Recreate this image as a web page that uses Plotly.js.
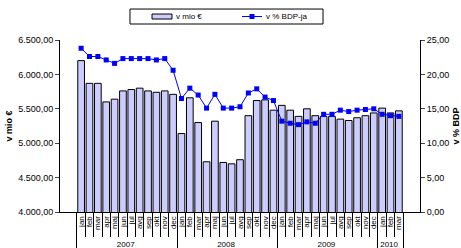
<!DOCTYPE html>
<html>
<head>
<meta charset="utf-8">
<script src="https://cdn.plot.ly/plotly-3.0.1.min.js"></script>
<style>html,body{margin:0;padding:0;background:#fff}#chart{width:461px;height:248px}</style>
</head>
<body>
<div id="chart"></div>
<script>
const years = ['2007','2008','2009','2010'];
const monthsPerYear = [12,12,12,3];
const months = ['jan','feb','mar','apr','maj','jun','jul','avg','sep','okt','nov','dec'];
const valuesMio = [6200,5870,5870,5600,5640,5760,5780,5800,5760,5740,5760,5710,
                   5140,5660,5300,4730,5320,4720,4700,4760,5400,5620,5630,5480,
                   5550,5480,5390,5500,5400,5390,5390,5350,5330,5370,5400,5440,
                   5510,5440,5470];
const valuesPctBDP = [23.8,22.6,22.6,22.1,21.6,22.3,22.3,22.3,22.3,22.1,22.3,20.6,
                      16.5,18.0,17.0,15.1,17.1,15.1,15.1,15.3,17.3,17.9,16.7,16.2,
                      13.2,12.9,12.7,13.1,12.9,14.2,14.2,14.8,14.6,14.8,14.9,15.0,
                      14.2,14.0,13.9];
const seriesNames = ['v mio €', 'v % BDP-ja'];

const xYear = [], xMonth = [];
years.forEach((y,i)=>{ for(let m=0;m<monthsPerYear[i];m++){ xYear.push(y); xMonth.push(months[m]); } });

const font = 'Liberation Sans, Arial, sans-serif';
const barColor = '#CCCCFF', lineColor = '#0000FF';
const traces = [
  {type:'bar', name:seriesNames[0], x:[xYear,xMonth], y:valuesMio,
   marker:{color:barColor, line:{color:'#000', width:1}}, yaxis:'y'},
  {type:'scatter', mode:'lines+markers', name:seriesNames[1], x:[xYear,xMonth], y:valuesPctBDP,
   line:{color:lineColor, width:1}, marker:{symbol:'square', size:5, color:lineColor}, yaxis:'y2'}
];

// manual legend box (paper coordinates relative to plot area)
const shapes = [
  {type:'rect', xref:'paper', yref:'paper', x0:0.1944, x1:0.7306, y0:1.093, y1:1.180,
   line:{color:'#000', width:1}, fillcolor:'#fff'},
  {type:'rect', xref:'paper', yref:'paper', x0:0.2556, x1:0.3111, y0:1.122, y1:1.151,
   line:{color:'#000', width:1}, fillcolor:barColor},
  {type:'line', xref:'paper', yref:'paper', x0:0.5056, x1:0.5611, y0:1.1366, y1:1.1366,
   line:{color:lineColor, width:1}},
  {type:'rect', xref:'paper', yref:'paper', x0:0.5264, x1:0.5403, y0:1.1221, y1:1.1512,
   line:{color:lineColor, width:0}, fillcolor:lineColor}
];
const annotations = [
  {xref:'paper', yref:'paper', x:0.3167, y:1.1366, xanchor:'left', yanchor:'middle',
   text:seriesNames[0], showarrow:false, font:{size:8, family:font, color:'#000'}},
  {xref:'paper', yref:'paper', x:0.5667, y:1.1366, xanchor:'left', yanchor:'middle',
   text:seriesNames[1], showarrow:false, font:{size:8, family:font, color:'#000'}}
];

const layout = {
  width:461, height:248,
  margin:{l:60, r:41, t:40, b:36},
  paper_bgcolor:'#fff', plot_bgcolor:'#fff',
  font:{family:font, size:8, color:'#000'},
  separators:',.',
  bargap:0.2,
  showlegend:false,
  shapes:shapes, annotations:annotations,
  xaxis:{type:'multicategory', showline:true, linecolor:'#000', linewidth:1,
         ticks:'outside', tickson:'boundaries', ticklen:24, tickcolor:'#000',
         nticks:100, tickangle:-90, tickfont:{size:8}, showdividers:true, dividercolor:'#000', dividerwidth:1,
         showgrid:false, zeroline:false},
  yaxis:{range:[4000,6500], dtick:500, tickformat:',.2f', showline:true, linecolor:'#000',
         ticks:'outside', ticklen:4, tickfont:{size:9}, showgrid:false, zeroline:false,
         title:{text:'<b>v mio €</b>', font:{size:9}, standoff:4}},
  yaxis2:{range:[0,25], dtick:5, tickformat:'.2f', overlaying:'y', side:'right', showline:true,
          linecolor:'#000', ticks:'outside', ticklen:4, tickfont:{size:9}, showgrid:false, zeroline:false,
          title:{text:'<b>v % BDP</b>', font:{size:9}, standoff:6}}
};
Plotly.newPlot('chart', traces, layout, {displayModeBar:false, staticPlot:true});
</script>
</body>
</html>
